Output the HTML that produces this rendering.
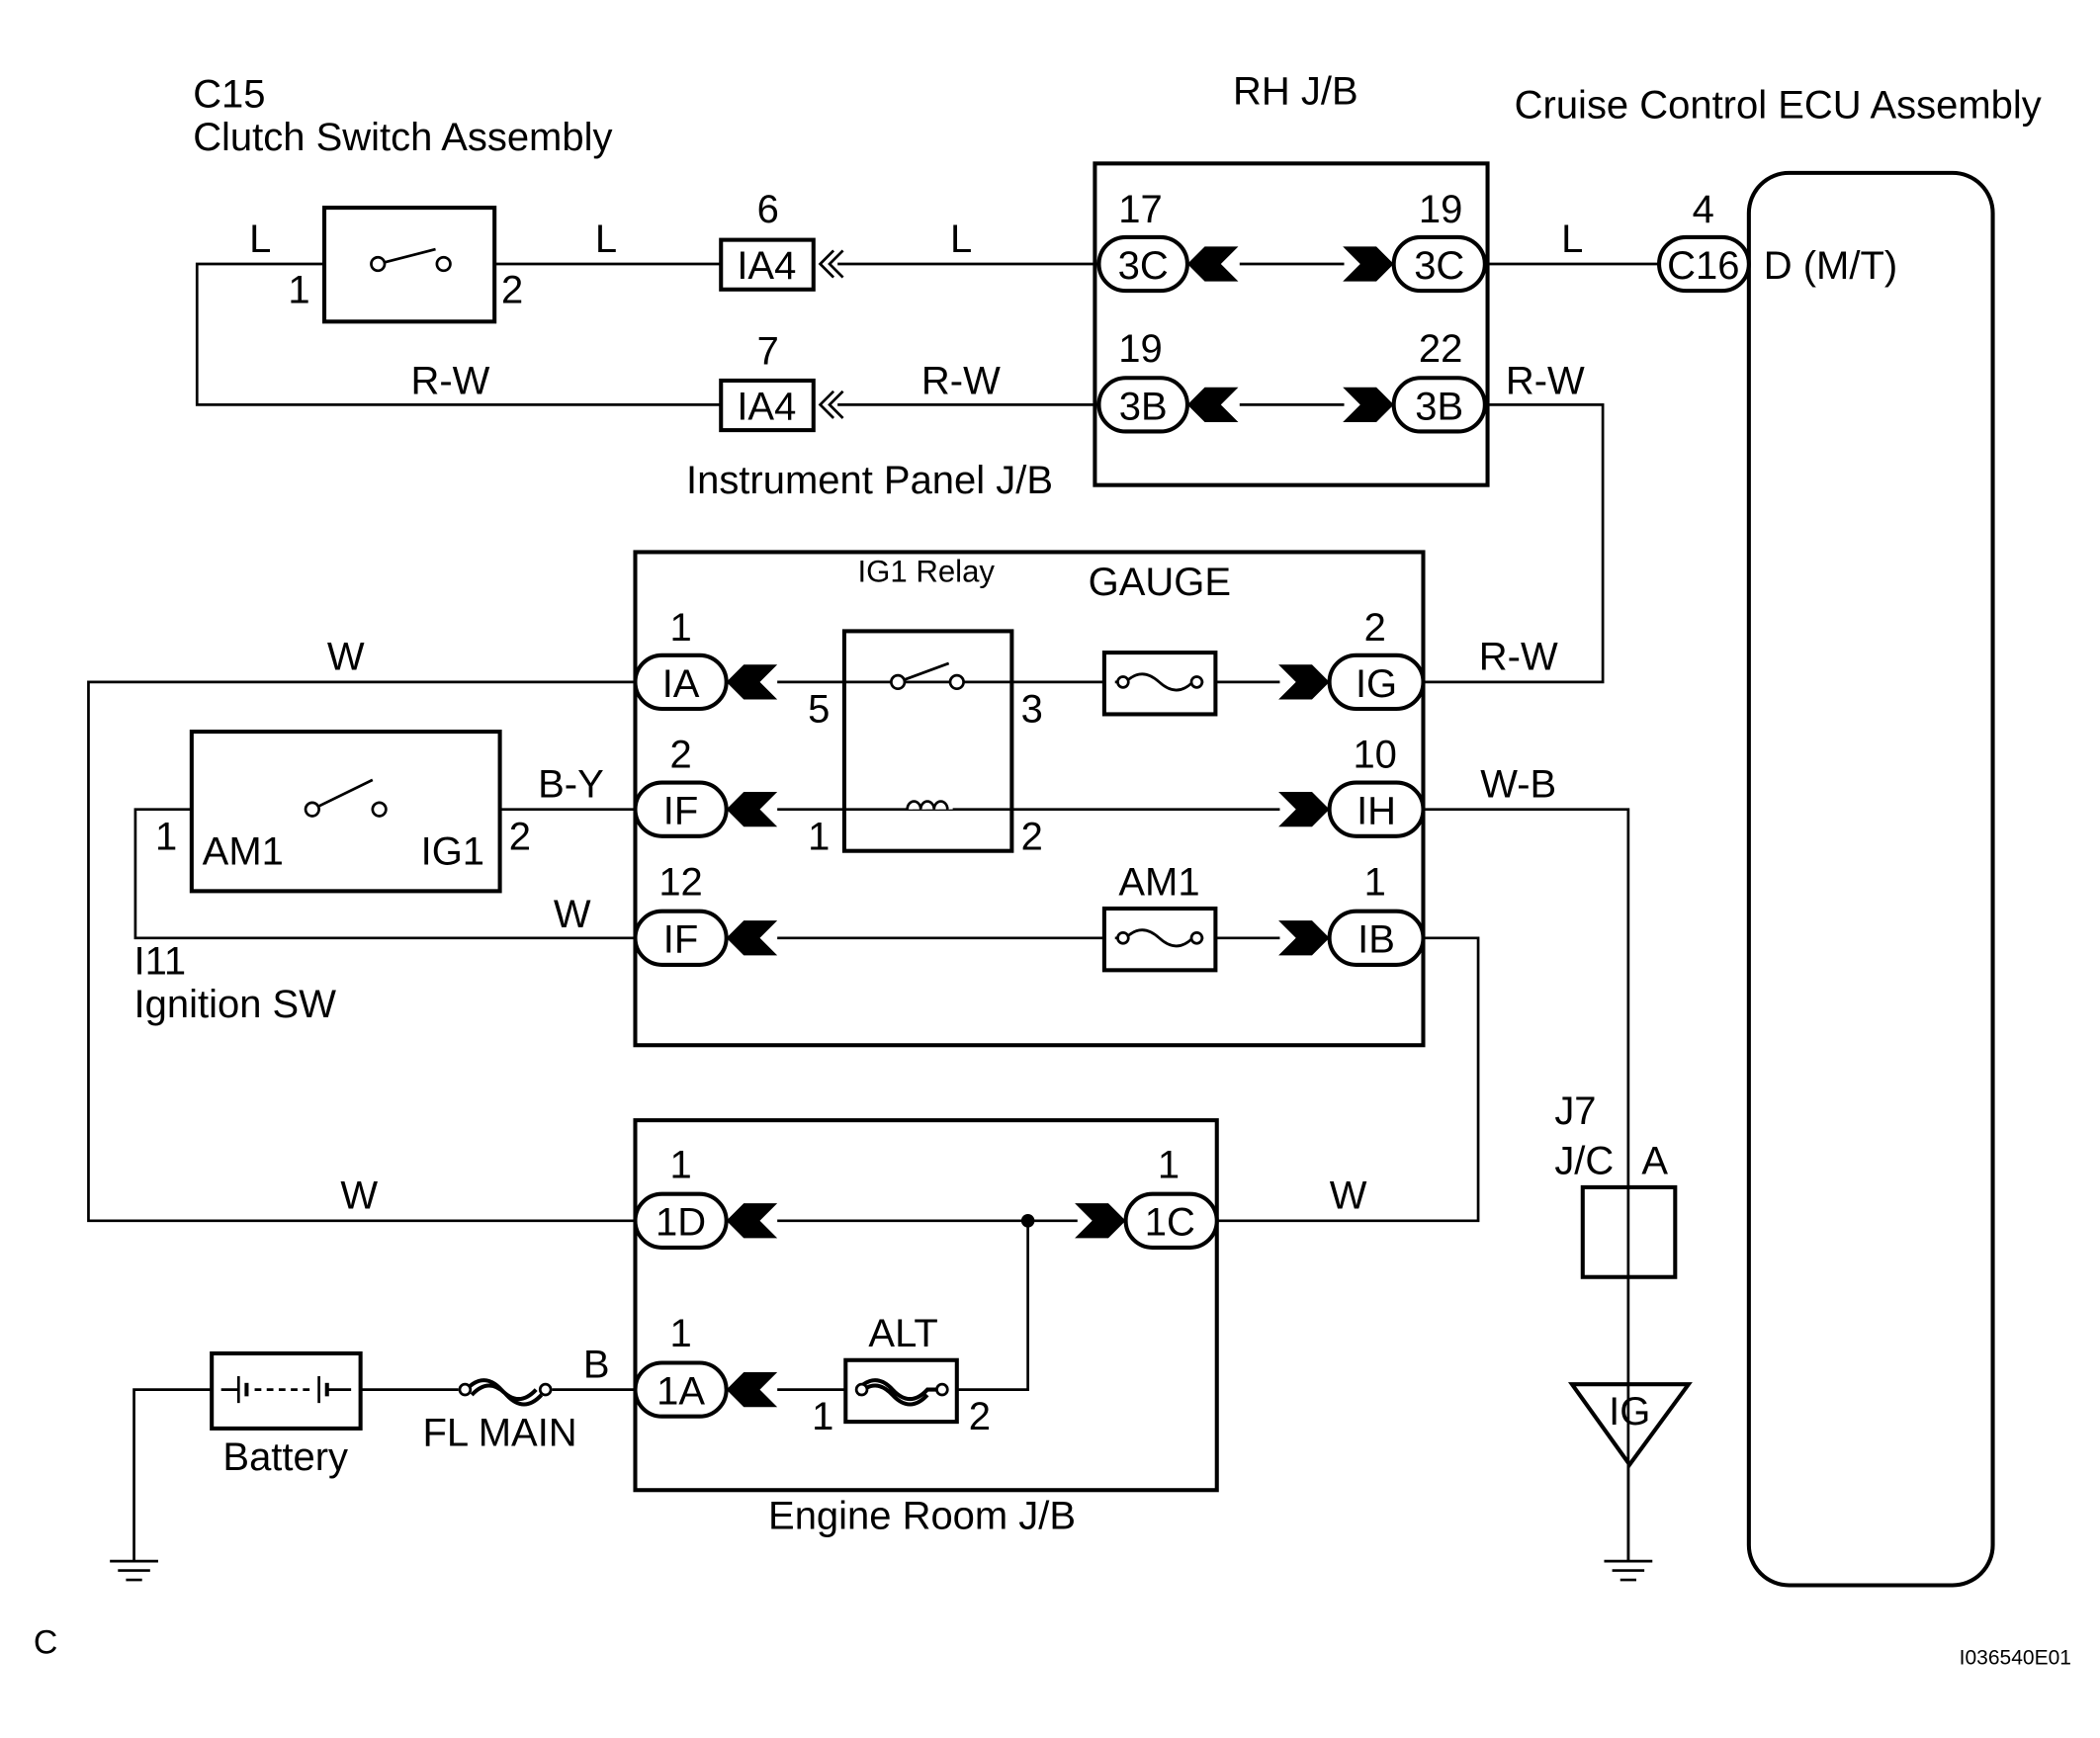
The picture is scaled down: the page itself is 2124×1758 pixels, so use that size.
<!DOCTYPE html>
<html><head><meta charset="utf-8"><style>
html,body{margin:0;padding:0;background:#fff;}
svg{display:block;}
text{font-family:"Liberation Sans",Arial,sans-serif;font-size:29.5px;fill:#000;}
.c{text-anchor:middle;}
</style></head><body>
<svg width="2124" height="1758" viewBox="0 0 1567 1297" xmlns="http://www.w3.org/2000/svg">
<defs>
<g id="al"><polygon points="0,0 13,-13 38,-13 25,0 38,13 13,13" fill="#000"/></g>
<g id="ar"><polygon points="0,0 -13,-13 -38,-13 -25,0 -38,13 -13,13" fill="#000"/></g>
</defs>
<g fill="none" stroke="#000" stroke-width="2">
<polyline points="242,197 147,197 147,302 538,302"/>
<line x1="369" y1="197" x2="538" y2="197"/>
<line x1="625" y1="197" x2="820" y2="197"/>
<line x1="625" y1="302" x2="820" y2="302"/>
<line x1="925" y1="197" x2="1003" y2="197"/>
<line x1="925" y1="302" x2="1003" y2="302"/>
<line x1="1108" y1="197" x2="1238" y2="197"/>
<polyline points="1108,302 1196,302 1196,509 1062,509"/>
<rect x="242" y="155" width="127" height="85" stroke-width="3"/>
<line x1="282" y1="197" x2="325" y2="186"/>
<circle cx="282" cy="197" r="5" fill="#fff"/><circle cx="331" cy="197" r="5" fill="#fff"/>
<rect x="538" y="179" width="69" height="37" stroke-width="3"/>
<rect x="538" y="284" width="69" height="37" stroke-width="3"/>
<polyline points="622,187 612,197 622,207"/><polyline points="629,187 619,197 629,207"/>
<polyline points="622,292 612,302 622,312"/><polyline points="629,292 619,302 629,312"/>
<rect x="817" y="122" width="293" height="240" stroke-width="3"/>
<rect x="1305" y="129" width="182" height="1054" rx="30" stroke-width="3"/>
<rect x="474" y="412" width="588" height="368" stroke-width="3"/>
<polyline points="474,509 66,509 66,911 474,911"/>
<line x1="580" y1="509" x2="824" y2="509"/>
<line x1="907" y1="509" x2="955" y2="509"/>
<line x1="580" y1="604" x2="955" y2="604"/>
<line x1="580" y1="700" x2="824" y2="700"/>
<line x1="907" y1="700" x2="955" y2="700"/>
<rect x="630" y="471" width="125" height="164" stroke-width="3" fill="#fff"/>
<line x1="630" y1="509" x2="755" y2="509"/>
<line x1="630" y1="604" x2="755" y2="604"/>
<line x1="670" y1="509" x2="708" y2="495" />
<circle cx="670" cy="509" r="5" fill="#fff"/><circle cx="714" cy="509" r="5" fill="#fff"/>
<path d="M679,604 a5,6 0 0 1 10,0 a5,6 0 0 1 10,0 a5,6 0 0 1 10,0" fill="#fff" stroke="#fff" stroke-width="4"/>
<path d="M677,604 a5,6 0 0 1 10,0 a5,6 0 0 1 10,0 a5,6 0 0 1 10,0"/>
<rect x="824" y="487" width="83" height="46" stroke-width="3"/>
<rect x="824" y="678" width="83" height="46" stroke-width="3"/>
<path d="M832,509 h8 q12,-12 25,0 q13,12 25,0 h8"/>
<path d="M832,700 h8 q12,-12 25,0 q13,12 25,0 h8"/>
<circle cx="838" cy="509" r="4" fill="#fff"/><circle cx="893" cy="509" r="4" fill="#fff"/>
<circle cx="838" cy="700" r="4" fill="#fff"/><circle cx="893" cy="700" r="4" fill="#fff"/>
<polyline points="1062,604 1215,604 1215,1165"/>
<polyline points="1062,700 1103,700 1103,911 907,911"/>
<rect x="143" y="546" width="230" height="119" stroke-width="3"/>
<polyline points="143,604 101,604 101,700 474,700"/>
<line x1="373" y1="604" x2="474" y2="604"/>
<line x1="233" y1="604" x2="278" y2="582"/>
<circle cx="233" cy="604" r="5" fill="#fff"/><circle cx="283" cy="604" r="5" fill="#fff"/>
<rect x="474" y="836" width="434" height="276" stroke-width="3"/>
<line x1="580" y1="911" x2="804" y2="911"/>
<line x1="580" y1="1037" x2="631" y2="1037"/>
<polyline points="714,1037 767,1037 767,911"/>
<rect x="631" y="1015" width="83" height="46" stroke-width="3"/>
<path d="M640,1037 q13,-14 26,0 q13,14 26,0 h14 M640,1041 q13,-14 26,0 q13,14 26,0" stroke-width="3"/>
<circle cx="643" cy="1037" r="4" fill="#fff"/><circle cx="703" cy="1037" r="4" fill="#fff"/>
<polyline points="158,1037 100,1037 100,1165"/>
<rect x="158" y="1010" width="111" height="56" stroke-width="3"/>
<line x1="165" y1="1037" x2="178" y2="1037"/>
<line x1="178" y1="1027" x2="178" y2="1047"/>
<line x1="184" y1="1032" x2="184" y2="1042" stroke-width="3"/>
<line x1="190" y1="1037" x2="234" y2="1037" stroke-dasharray="5,4"/>
<line x1="238" y1="1027" x2="238" y2="1047"/>
<line x1="244" y1="1032" x2="244" y2="1042" stroke-width="3"/>
<line x1="244" y1="1037" x2="262" y2="1037"/>
<line x1="269" y1="1037" x2="342" y2="1037"/>
<line x1="412" y1="1037" x2="474" y2="1037"/>
<path d="M348,1037 q13,-14 26,0 q13,14 26,0 M352,1041 q13,-14 26,0 q13,14 26,0" stroke-width="3"/>
<circle cx="347" cy="1037" r="4" fill="#fff"/><circle cx="407" cy="1037" r="4" fill="#fff"/>
<rect x="1181" y="886" width="69" height="67" stroke-width="3"/>
<polygon points="1173,1033 1260,1033 1216,1093" stroke-width="3"/>
<line x1="1215" y1="1093" x2="1215" y2="1165"/>
<line x1="82" y1="1165" x2="118" y2="1165"/><line x1="88" y1="1172" x2="112" y2="1172"/><line x1="94" y1="1179" x2="106" y2="1179"/>
<line x1="1197" y1="1165" x2="1233" y2="1165"/><line x1="1203" y1="1172" x2="1227" y2="1172"/><line x1="1209" y1="1179" x2="1221" y2="1179"/>
<g stroke-width="3" fill="#fff">
<rect x="820" y="177" width="66" height="40" rx="20"/>
<rect x="1040" y="177" width="68" height="40" rx="20"/>
<rect x="820" y="282" width="66" height="40" rx="20"/>
<rect x="1040" y="282" width="68" height="40" rx="20"/>
<rect x="1238" y="177" width="67" height="40" rx="20"/>
<rect x="474" y="489" width="68" height="40" rx="20"/>
<rect x="474" y="584" width="68" height="40" rx="20"/>
<rect x="474" y="680" width="68" height="40" rx="20"/>
<rect x="992" y="489" width="70" height="40" rx="20"/>
<rect x="992" y="584" width="70" height="40" rx="20"/>
<rect x="992" y="680" width="70" height="40" rx="20"/>
<rect x="474" y="891" width="68" height="40" rx="20"/>
<rect x="840" y="891" width="68" height="40" rx="20"/>
<rect x="474" y="1017" width="68" height="40" rx="20"/>
</g>
</g>
<circle cx="767" cy="911" r="5" fill="#000"/>
<use href="#al" x="886" y="197"/><use href="#ar" x="1040" y="197"/>
<use href="#al" x="886" y="302"/><use href="#ar" x="1040" y="302"/>
<use href="#al" x="542" y="509"/><use href="#al" x="542" y="604"/><use href="#al" x="542" y="700"/>
<use href="#ar" x="992" y="509"/><use href="#ar" x="992" y="604"/><use href="#ar" x="992" y="700"/>
<use href="#al" x="542" y="911"/><use href="#ar" x="840" y="911"/><use href="#al" x="542" y="1037"/>
<text x="144" y="80">C15</text>
<text x="144" y="112">Clutch Switch Assembly</text>
<text x="920" y="78">RH J/B</text>
<text x="1130" y="88">Cruise Control ECU Assembly</text>
<text x="186" y="188">L</text><text x="215" y="226">1</text><text x="374" y="226">2</text>
<text x="444" y="188">L</text><text x="709" y="188">L</text><text x="1165" y="188">L</text>
<text x="573" y="166" class="c">6</text><text x="573" y="272" class="c">7</text>
<text x="572" y="208" class="c">IA4</text><text x="572" y="313" class="c">IA4</text>
<text x="851" y="166" class="c">17</text><text x="1075" y="166" class="c">19</text>
<text x="851" y="270" class="c">19</text><text x="1075" y="270" class="c">22</text>
<text x="853" y="208" class="c">3C</text><text x="1074" y="208" class="c">3C</text>
<text x="853" y="313" class="c">3B</text><text x="1074" y="313" class="c">3B</text>
<text x="1271" y="166" class="c">4</text>
<text x="1271" y="208" class="c">C16</text>
<text x="1316" y="208">D (M/T)</text>
<text x="336" y="294" class="c">R-W</text><text x="717" y="294" class="c">R-W</text><text x="1153" y="294" class="c">R-W</text>
<text x="512" y="368">Instrument Panel J/B</text>
<text x="640" y="434" style="font-size:23px">IG1 Relay</text>
<text x="812" y="444">GAUGE</text>
<text x="508" y="478" class="c">1</text><text x="1026" y="478" class="c">2</text>
<text x="508" y="520" class="c">IA</text><text x="1027" y="520" class="c">IG</text>
<text x="611" y="539" class="c">5</text><text x="770" y="539" class="c">3</text>
<text x="258" y="500" class="c">W</text><text x="1133" y="500" class="c">R-W</text>
<text x="508" y="573" class="c">2</text><text x="1026" y="573" class="c">10</text>
<text x="508" y="615" class="c">IF</text><text x="1027" y="615" class="c">IH</text>
<text x="611" y="634" class="c">1</text><text x="770" y="634" class="c">2</text>
<text x="1133" y="595" class="c">W-B</text><text x="426" y="595" class="c">B-Y</text>
<text x="124" y="634" class="c">1</text><text x="388" y="634" class="c">2</text>
<text x="151" y="645">AM1</text><text x="314" y="645">IG1</text>
<text x="508" y="668" class="c">12</text><text x="1026" y="668" class="c">1</text>
<text x="865" y="668" class="c">AM1</text>
<text x="508" y="711" class="c">IF</text><text x="1027" y="711" class="c">IB</text>
<text x="427" y="692" class="c">W</text>
<text x="100" y="727">I11</text>
<text x="100" y="759">Ignition SW</text>
<text x="508" y="879" class="c">1</text><text x="872" y="879" class="c">1</text>
<text x="508" y="922" class="c">1D</text><text x="873" y="922" class="c">1C</text>
<text x="268" y="902" class="c">W</text><text x="1006" y="902" class="c">W</text>
<text x="508" y="1005" class="c">1</text><text x="674" y="1005" class="c">ALT</text>
<text x="508" y="1048" class="c">1A</text>
<text x="614" y="1067" class="c">1</text><text x="731" y="1067" class="c">2</text>
<text x="445" y="1028" class="c">B</text>
<text x="213" y="1097" class="c">Battery</text>
<text x="373" y="1079" class="c">FL MAIN</text>
<text x="688" y="1141" class="c">Engine Room J/B</text>
<text x="1160" y="839">J7</text>
<text x="1160" y="876">J/C</text><text x="1225" y="876">A</text>
<text x="1216" y="1063" class="c">IG</text>
<text x="25" y="1234" style="font-size:25px">C</text>
<text x="1462" y="1242" style="font-size:15.5px">I036540E01</text>
</svg>
</body></html>
